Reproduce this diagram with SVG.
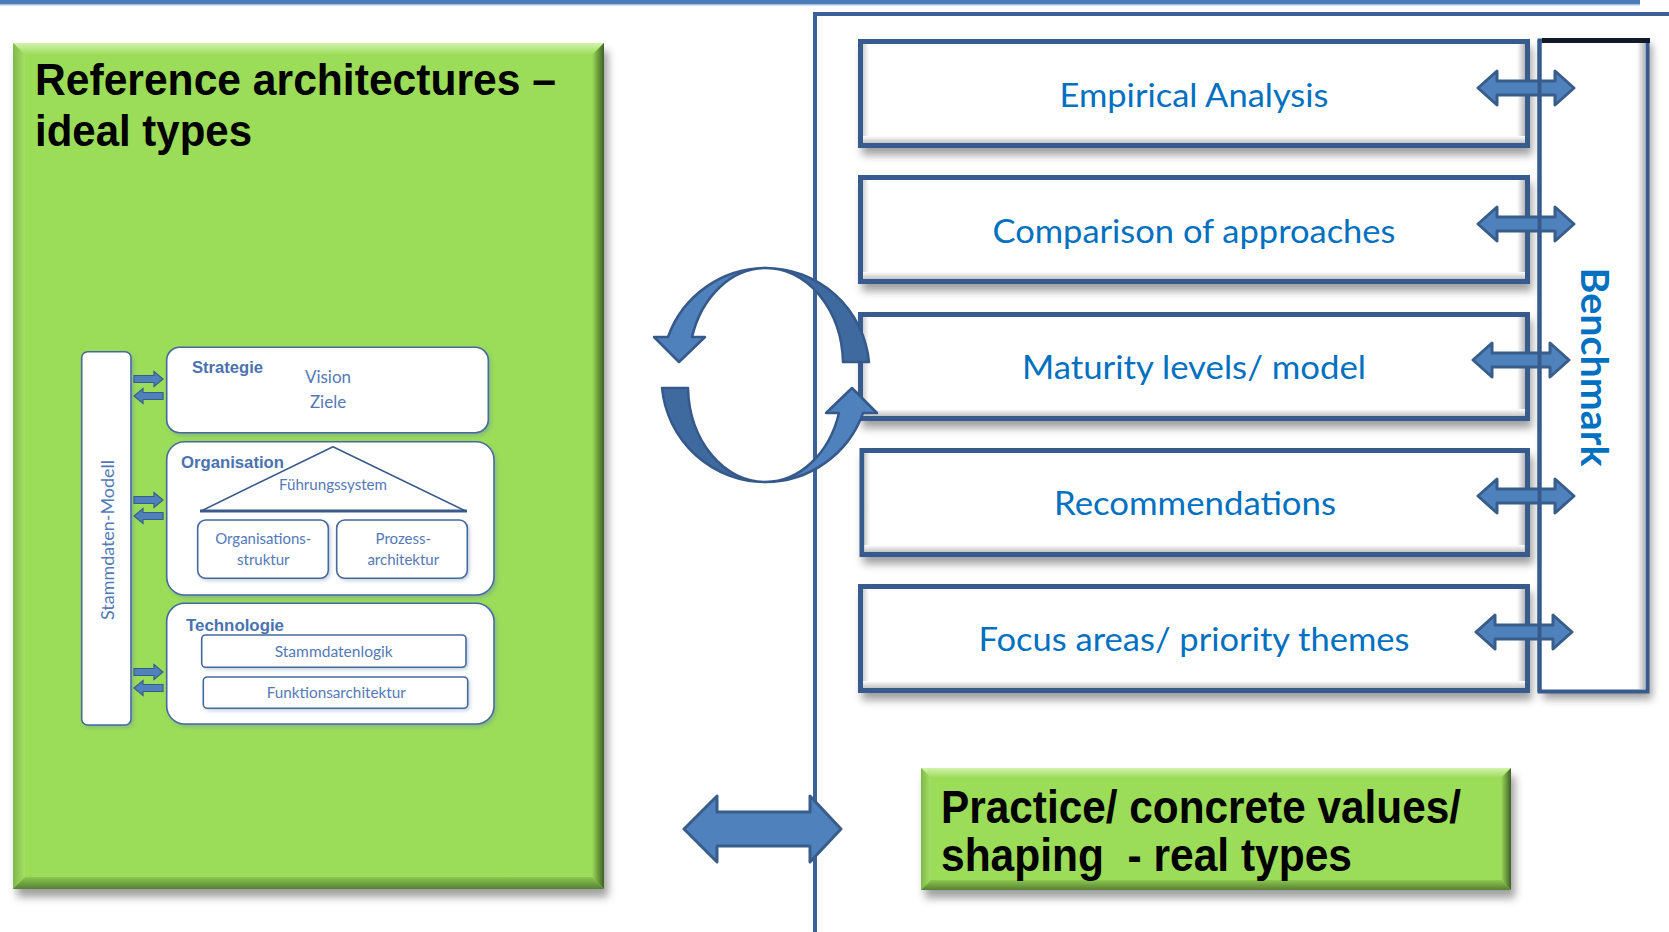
<svg xmlns="http://www.w3.org/2000/svg" width="1669" height="932" viewBox="0 0 1669 932">
<defs>
<style>
.ttl{font-family:"Liberation Sans",Arial,sans-serif;font-weight:bold;fill:#000}
.cal{font-family:Lato,"Open Sans",sans-serif}
.rt{font-size:33px;fill:#0070c0;text-anchor:middle}
.in{fill:#5479b8;text-anchor:middle}
.lbl{font-family:"Liberation Sans",Arial,sans-serif;font-weight:bold;fill:#4a72b0;font-size:16.5px}
.ibox{fill:#fff;stroke:#46699e;stroke-width:1.6}
.sarr{fill:#4f81bd;stroke:#385d8a;stroke-width:1.2}
.barr{fill:#4f81bd;stroke:#385d8a;stroke-width:3;stroke-linejoin:round}
.rbox{fill:#fff;stroke:#375b8c;stroke-width:5}
.shd{fill:#7f7f7f;opacity:0.75}
.frame{fill:none;stroke:#3b6196;stroke-width:4}
</style>
<filter id="blur" x="-10%" y="-20%" width="120%" height="140%"><feGaussianBlur stdDeviation="4"/></filter>
<filter id="blurS" x="-10%" y="-20%" width="120%" height="140%"><feGaussianBlur stdDeviation="2"/></filter>
<linearGradient id="gTop" x1="0" y1="0" x2="0" y2="1"><stop offset="0" stop-color="#d2f2ad"/><stop offset="1" stop-color="#9bdc58"/></linearGradient>
<linearGradient id="gRight" x1="0" y1="0" x2="1" y2="0"><stop offset="0" stop-color="#9bdc58"/><stop offset="1" stop-color="#3f5f25"/></linearGradient>
<linearGradient id="gBot" x1="0" y1="0" x2="0" y2="1"><stop offset="0" stop-color="#8cc84f"/><stop offset="1" stop-color="#587f34"/></linearGradient>
<linearGradient id="gLeft" x1="0" y1="0" x2="1" y2="0"><stop offset="0" stop-color="#7fb848"/><stop offset="1" stop-color="#a6e067"/></linearGradient>
<linearGradient id="wRight" x1="0" y1="0" x2="1" y2="0"><stop offset="0" stop-color="#ffffff"/><stop offset="1" stop-color="#b8b8b8"/></linearGradient>
<linearGradient id="wBot" x1="0" y1="0" x2="0" y2="1"><stop offset="0" stop-color="#ffffff"/><stop offset="1" stop-color="#c4c4c4"/></linearGradient>
<linearGradient id="wLeft" x1="0" y1="0" x2="1" y2="0"><stop offset="0" stop-color="#d0d0d0"/><stop offset="1" stop-color="#ffffff"/></linearGradient>
<path id="rarr" d="M-48,0 L-29,-17 V-7 H29 V-17 L48,0 L29,17 V7 H-29 V17 Z"/>
<path id="sa" d="M0,-3.5 H20 V-7.5 L29,0 L20,7.5 V3.5 H0 Z"/>
</defs>

<!-- top decorative line -->
<rect x="0" y="0" width="1640" height="4" fill="#4a7ebb"/>
<rect x="0" y="4" width="1640" height="1.5" fill="#a9c2e0"/>

<!-- left green box: Reference architectures -->
<g id="ref-arch">
  <rect x="17" y="51" width="591" height="846" class="shd" filter="url(#blur)"/>
  <rect x="13" y="43" width="591" height="846" fill="#9bdc58"/>
  <polygon points="13,43 604,43 592,55 25,55" fill="url(#gTop)"/>
  <polygon points="13,43 25,55 25,877 13,889" fill="url(#gLeft)"/>
  <polygon points="604,43 604,889 592,877 592,55" fill="url(#gRight)"/>
  <polygon points="13,889 604,889 592,877 25,877" fill="url(#gBot)"/>
  <text class="ttl" x="35" y="95" font-size="45" textLength="521" lengthAdjust="spacingAndGlyphs">Reference architectures –</text>
  <text class="ttl" x="35" y="146" font-size="45" textLength="217" lengthAdjust="spacingAndGlyphs">ideal types</text>
</g>

<!-- inner model diagram -->
<g id="stammdaten-modell">
  <rect x="84" y="354" width="49.3" height="373.3" rx="6" fill="#6b8fb0" opacity="0.5" filter="url(#blurS)"/>
  <rect x="81.7" y="351.7" width="49.3" height="373.3" rx="6" class="ibox"/>
  <text class="cal in" font-size="17" transform="translate(114,540) rotate(-90)" textLength="160" lengthAdjust="spacingAndGlyphs">Stammdaten-Modell</text>
</g>

<g id="strategie">
  <rect x="169" y="350" width="321.6" height="85.4" rx="13" fill="#6b8fb0" opacity="0.5" filter="url(#blurS)"/>
  <rect x="166.7" y="347.3" width="321.6" height="85.4" rx="13" class="ibox"/>
  <text class="lbl" x="192" y="373" textLength="71" lengthAdjust="spacingAndGlyphs">Strategie</text>
  <text class="cal in" font-size="17" x="328" y="383">Vision</text>
  <text class="cal in" font-size="17" x="328" y="408">Ziele</text>
</g>

<g id="organisation">
  <rect x="169" y="444.5" width="327.3" height="153.3" rx="18" fill="#6b8fb0" opacity="0.5" filter="url(#blurS)"/>
  <rect x="166.7" y="441.7" width="327.3" height="153.3" rx="18" class="ibox"/>
  <polygon points="333,446.7 465,510.7 201.7,510.7" fill="#fff" stroke="#3a5a8a" stroke-width="1.6" stroke-linejoin="round"/>
  <line x1="200" y1="511" x2="467" y2="511" stroke="#3a5a8a" stroke-width="3"/>
  <text class="lbl" x="181" y="468" textLength="103" lengthAdjust="spacingAndGlyphs">Organisation</text>
  <text class="cal in" font-size="15" x="333" y="490" textLength="108" lengthAdjust="spacingAndGlyphs">Führungssystem</text>
  <g id="org-struktur">
    <rect x="199.5" y="522" width="130.6" height="58.3" rx="8" fill="#6b8fb0" opacity="0.5" filter="url(#blurS)"/>
    <rect x="197.7" y="520" width="130.6" height="58.3" rx="8" class="ibox"/>
    <text class="cal in" font-size="15" x="263.3" y="544" textLength="96" lengthAdjust="spacingAndGlyphs">Organisations-</text>
    <text class="cal in" font-size="15" x="263.3" y="565">struktur</text>
  </g>
  <g id="prozess">
    <rect x="338.5" y="522" width="130.6" height="58.3" rx="8" fill="#6b8fb0" opacity="0.5" filter="url(#blurS)"/>
    <rect x="336.7" y="520" width="130.6" height="58.3" rx="8" class="ibox"/>
    <text class="cal in" font-size="15" x="403.3" y="544">Prozess-</text>
    <text class="cal in" font-size="15" x="403.3" y="565">architektur</text>
  </g>
</g>

<g id="technologie">
  <rect x="169" y="606" width="327.3" height="120.7" rx="18" fill="#6b8fb0" opacity="0.5" filter="url(#blurS)"/>
  <rect x="166.7" y="603.3" width="327.3" height="120.7" rx="18" class="ibox"/>
  <text class="lbl" x="186" y="631" textLength="98" lengthAdjust="spacingAndGlyphs">Technologie</text>
  <g id="stammdatenlogik">
    <rect x="203.5" y="637" width="264.3" height="32.3" rx="4" fill="#6b8fb0" opacity="0.5" filter="url(#blurS)"/>
    <rect x="201.7" y="635" width="264.3" height="32.3" rx="4" class="ibox"/>
    <text class="cal in" font-size="15.5" x="333.7" y="657.3" textLength="118" lengthAdjust="spacingAndGlyphs">Stammdatenlogik</text>
  </g>
  <g id="funktionsarchitektur">
    <rect x="205" y="679" width="264.4" height="31.3" rx="4" fill="#6b8fb0" opacity="0.5" filter="url(#blurS)"/>
    <rect x="203.3" y="677" width="264.4" height="31.3" rx="4" class="ibox"/>
    <text class="cal in" font-size="15.5" x="336.3" y="698.3" textLength="139" lengthAdjust="spacingAndGlyphs">Funktionsarchitektur</text>
  </g>
</g>

<!-- small exchange arrows -->
<g id="small-arrows">
  <use href="#sa" class="sarr" transform="translate(134,379)"/>
  <use href="#sa" class="sarr" transform="translate(163,396) scale(-1,1)"/>
  <use href="#sa" class="sarr" transform="translate(134,500)"/>
  <use href="#sa" class="sarr" transform="translate(163,516) scale(-1,1)"/>
  <use href="#sa" class="sarr" transform="translate(134,672)"/>
  <use href="#sa" class="sarr" transform="translate(163,688) scale(-1,1)"/>
</g>

<!-- right frame -->
<g id="frame">
  <path class="frame" d="M815,932 V14 H1669"/>
</g>

<!-- benchmark box -->
<g id="benchmark">
  <rect x="1543" y="44" width="109" height="655" class="shd" filter="url(#blur)"/>
  <rect x="1539.5" y="40.5" width="108" height="651" fill="#fff" stroke="#375b8c" stroke-width="4"/>
  <rect x="1542" y="38" width="108" height="5" fill="#111a2a"/>
  <rect x="1637" y="43" width="8" height="646" fill="url(#wRight)"/>
  <text font-family="Lato,'Open Sans',sans-serif" font-weight="bold" font-size="38" fill="#0070c0" text-anchor="middle" transform="translate(1581,367) rotate(90)" textLength="199" lengthAdjust="spacingAndGlyphs">Benchmark</text>
</g>

<!-- right boxes -->
<g id="empirical">
  <rect x="862" y="47" width="670" height="108" class="shd" filter="url(#blur)"/>
  <rect x="860.5" y="41.5" width="667" height="104" class="rbox"/>
  <rect x="863" y="44" width="6" height="99" fill="url(#wLeft)"/>
  <rect x="1517" y="44" width="8" height="99" fill="url(#wRight)"/>
  <rect x="863" y="136" width="662" height="7" fill="url(#wBot)"/>
  <text class="cal rt" x="1194" y="107" textLength="269" lengthAdjust="spacingAndGlyphs">Empirical Analysis</text>
</g>
<g id="comparison">
  <rect x="862" y="183" width="670" height="108" class="shd" filter="url(#blur)"/>
  <rect x="860.5" y="177.5" width="667" height="104" class="rbox"/>
  <rect x="863" y="180" width="6" height="99" fill="url(#wLeft)"/>
  <rect x="1517" y="180" width="8" height="99" fill="url(#wRight)"/>
  <rect x="863" y="272" width="662" height="7" fill="url(#wBot)"/>
  <text class="cal rt" x="1194" y="243" textLength="403" lengthAdjust="spacingAndGlyphs">Comparison of approaches</text>
</g>
<g id="maturity">
  <rect x="862" y="320" width="670" height="108" class="shd" filter="url(#blur)"/>
  <rect x="860.5" y="314.5" width="667" height="104" class="rbox"/>
  <rect x="863" y="317" width="6" height="99" fill="url(#wLeft)"/>
  <rect x="1517" y="317" width="8" height="99" fill="url(#wRight)"/>
  <rect x="863" y="409" width="662" height="7" fill="url(#wBot)"/>
  <text class="cal rt" x="1194" y="379" textLength="344" lengthAdjust="spacingAndGlyphs">Maturity levels/ model</text>
</g>
<g id="recommendations">
  <rect x="863" y="456" width="670" height="108" class="shd" filter="url(#blur)"/>
  <rect x="862" y="450.5" width="665.5" height="104" class="rbox"/>
  <rect x="864.5" y="453" width="6" height="99" fill="url(#wLeft)"/>
  <rect x="1517" y="453" width="8" height="99" fill="url(#wRight)"/>
  <rect x="864.5" y="545" width="660" height="7" fill="url(#wBot)"/>
  <text class="cal rt" x="1195" y="515" textLength="282" lengthAdjust="spacingAndGlyphs">Recommendations</text>
</g>
<g id="focus">
  <rect x="862" y="592" width="670" height="108" class="shd" filter="url(#blur)"/>
  <rect x="860.5" y="586.5" width="667" height="104" class="rbox"/>
  <rect x="863" y="589" width="6" height="99" fill="url(#wLeft)"/>
  <rect x="1517" y="589" width="8" height="99" fill="url(#wRight)"/>
  <rect x="863" y="681" width="662" height="7" fill="url(#wBot)"/>
  <text class="cal rt" x="1194" y="651" textLength="431" lengthAdjust="spacingAndGlyphs">Focus areas/ priority themes</text>
</g>

<!-- practice box -->
<g id="practice">
  <rect x="925" y="776" width="590" height="122" class="shd" filter="url(#blur)"/>
  <rect x="921" y="768" width="590" height="122" fill="#9bdc58"/>
  <polygon points="921,768 1511,768 1501,778 931,778" fill="url(#gTop)"/>
  <polygon points="921,768 931,778 931,880 921,890" fill="url(#gLeft)"/>
  <polygon points="1511,768 1511,890 1501,880 1501,778" fill="url(#gRight)"/>
  <polygon points="921,890 1511,890 1501,880 931,880" fill="url(#gBot)"/>
  <text class="ttl" x="941" y="823" font-size="46" textLength="520" lengthAdjust="spacingAndGlyphs">Practice/ concrete values/</text>
  <text class="ttl" x="941" y="871" font-size="46" textLength="411" lengthAdjust="spacingAndGlyphs" xml:space="preserve">shaping  - real types</text>
</g>

<!-- connectors -->
<g id="connectors">
  <!-- cycle arrows -->
  <g id="cycle-top">
    <path d="M869,362 A104,104 0 0 0 765.5,268 A77,97 0 0 1 843,362 Z" fill="#3f6a9f" stroke="#35598a" stroke-width="2.5" stroke-linejoin="round"/>
    <path d="M765.5,268 A104,104 0 0 0 668,337 L654,337 L679,362 L705,337 L692,337 A77,97 0 0 1 765.5,268 Z" fill="#4f81bd" stroke="#35598a" stroke-width="2.5" stroke-linejoin="round"/>
  </g>
  <g id="cycle-bottom" transform="rotate(180 765.5 375)">
    <path d="M869,362 A104,104 0 0 0 765.5,268 A77,97 0 0 1 843,362 Z" fill="#3f6a9f" stroke="#35598a" stroke-width="2.5" stroke-linejoin="round"/>
    <path d="M765.5,268 A104,104 0 0 0 668,337 L654,337 L679,362 L705,337 L692,337 A77,97 0 0 1 765.5,268 Z" fill="#4f81bd" stroke="#35598a" stroke-width="2.5" stroke-linejoin="round"/>
  </g>
  <!-- benchmark arrows -->
  <use href="#rarr" class="barr" transform="translate(1526,88)"/>
  <use href="#rarr" class="barr" transform="translate(1526,224)"/>
  <use href="#rarr" class="barr" transform="translate(1521,360)"/>
  <use href="#rarr" class="barr" transform="translate(1526,496)"/>
  <use href="#rarr" class="barr" transform="translate(1524,632)"/>
  <line x1="1539.5" y1="40" x2="1539.5" y2="692" stroke="#375b8c" stroke-width="4"/>
  <!-- big bottom arrow -->
  <path class="barr" d="M684,829 L717,796 V812 H810 V796 L841,829 L810,862 V846 H717 V862 Z"/>
</g>
</svg>
